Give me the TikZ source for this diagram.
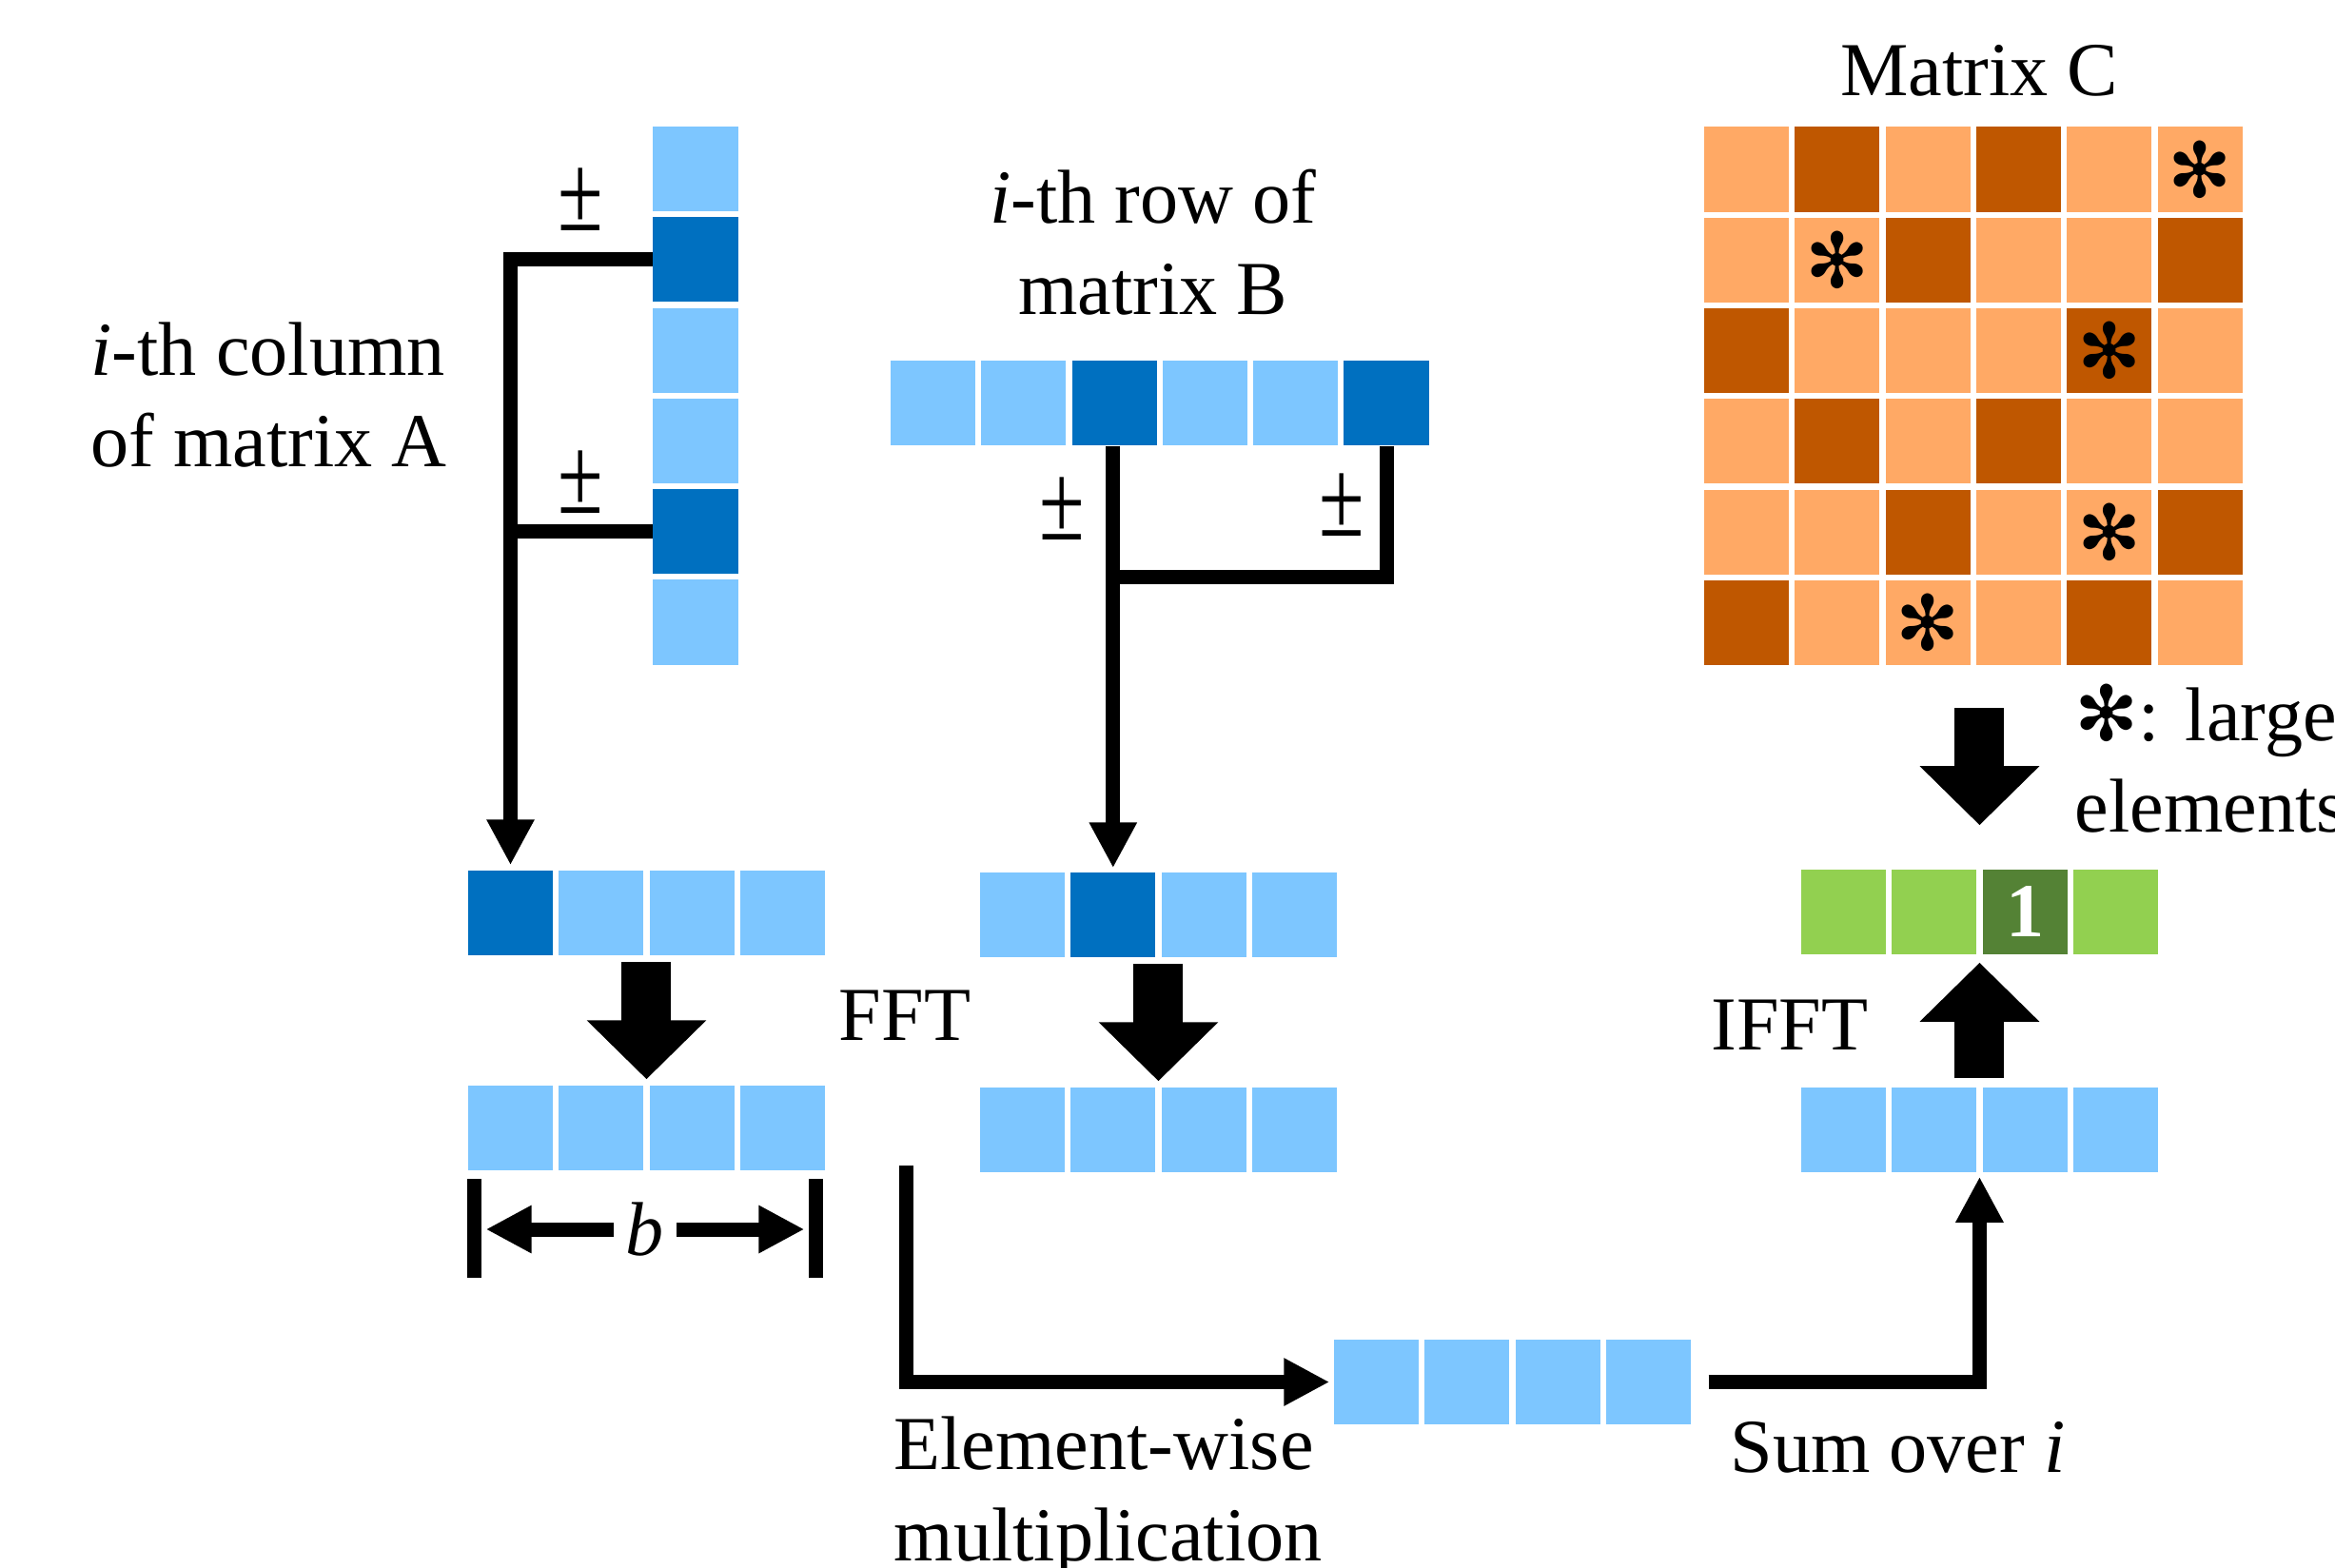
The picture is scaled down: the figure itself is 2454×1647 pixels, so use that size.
\documentclass[tikz,border=0pt]{standalone}
\usepackage{fontspec}
\setmainfont{Liberation Serif}
\newfontfamily\dejavu{DejaVu Sans}
\usetikzlibrary{
  arrows.meta,
  calc
}
\definecolor{celllight}{RGB}{125,198,255}
\definecolor{celldark}{RGB}{0,112,192}
\definecolor{matlight}{RGB}{255,169,101}
\definecolor{matdark}{RGB}{191,87,0}
\definecolor{reslight}{RGB}{146,208,80}
\definecolor{resdark}{RGB}{84,130,53}
\newcommand{\figfont}{\fontsize{22.8pt}{27.3pt}\selectfont}
\newcommand{\pmsign}{\scalebox{1.08}[1.45]{±}}
\tikzset{
  cell/.style={
    inner sep=0pt,
    minimum size=0.89cm,
    fill=celllight
  },
  hot/.style={
    cell,
    fill=celldark
  },
  mat0/.style={cell, fill=matlight},
  mat1/.style={cell, fill=matdark},
  mat2/.style={mat0, label={[astx]center:✻}},
  mat3/.style={mat1, label={[astx]center:✻}},
  astx/.style={
    inner sep=0pt,
    font={\figfont\dejavu}
  },
  rescell/.style={
    cell,
    fill=reslight
  },
  reshot/.style={
    cell,
    fill=resdark,
    text=white,
    font={\figfont\bfseries}
  },
  txt/.style={
    inner sep=0pt
  },
  wire/.style={
    line width=0.15cm
  },
  arr/.style={
    wire,
    -{Triangle[length=0.48cm,width=0.47cm]}
  },
  fatarrow/.style={
    line width=0.52cm,
    -{Triangle[length=0.62cm,width=1.22cm]}
  }
}

\begin{document}
\begin{tikzpicture}[x=0.01cm, y=-0.01cm, font=\figfont]
\useasboundingbox (0,0) rectangle (2454,1647);

% Column of matrix A.
\foreach \s [count=\k] in {cell,hot,cell,cell,hot,cell}
  \node[\s] (a\k) at (731,{82.2+95.3*\k}) {};
\node[txt, anchor=base west, align=left] (colA) at (95,490.5) {
  \textit{i}-th column\\of matrix A
};
\node[txt, anchor=base] (pmA1) at (610,242) {\pmsign};
\node[txt, anchor=base] (pmA2) at (610,539) {\pmsign};

% Row of matrix B.
\foreach \s [count=\k] in {cell,cell,hot,cell,cell,hot}
  \node[\s] (b\k) at ({885.2+95.3*\k},423.5) {};
\node[txt, anchor=base, align=center] (rowB) at (1212,330) {
  \textit{i}-th row of\\matrix B
};
\node[txt, anchor=base] (pmB1) at (1116,567) {\pmsign};
\node[txt, anchor=base] (pmB2) at (1410,563) {\pmsign};

% Matrix C (1 = large block, 2/3 = marked element).
\foreach \row [count=\r] in {{0,1,0,1,0,2},{0,2,1,0,0,1},{1,0,0,0,3,0},
                              {0,1,0,1,0,0},{0,0,1,0,2,1},{1,0,2,0,1,0}}
  \foreach \v [count=\c] in \row
    \node[mat\v] (c\r\c) at ({1740.2+95.3*\c},{82.7+95.3*\r}) {};
\node[txt, anchor=base] (matC) at (2080,100) {Matrix C};
\node[txt, anchor=base west, align=left] (legend) at (2180,874) {
  {\dejavu ✻}: large\\elements
};

% Gathered vectors and their FFTs.
\foreach \s [count=\k] in {hot,cell,cell,cell} {
  \node[\s] (av\k) at ({441.2+95.3*\k},959.5) {};
  \node[cell] (af\k) at ({441.2+95.3*\k},1185.5) {};
}
\foreach \s [count=\k] in {cell,hot,cell,cell} {
  \node[\s] (bv\k) at ({979.2+95.3*\k},961.5) {};
  \node[cell] (bf\k) at ({979.2+95.3*\k},1187) {};
}
\node[txt, anchor=base] (fft) at (951,1093) {FFT};

% Product, sum and inverse FFT.
\foreach \k in {1,...,4} {
  \node[cell] (pv\k) at ({1351.2+95.3*\k},1452.5) {};
  \node[cell] (iv\k) at ({1842.2+95.3*\k},1187.5) {};
}
\node[rescell] (g1) at (1937.5,958.5) {};
\node[rescell] (g2) at (2032.8,958.5) {};
\node[reshot] (g3) at (2128.1,958.5) {1};
\node[rescell] (g4) at (2223.4,958.5) {};
\node[txt, anchor=base] (ifft) at (1881,1103) {IFFT};
\node[txt, anchor=base west, align=left] (mult) at (939,1640) {
  Element-wise\\multiplication
};
\node[txt, anchor=base west] (sum) at (1818,1547) {Sum over \textit{i}};

% Width b.
\coordinate (dimtopL) at (498.5,1239);
\coordinate (dimbotL) at (498.5,1343);
\coordinate (dimtopR) at (857.5,1239);
\coordinate (dimbotR) at (857.5,1343);
\coordinate (dimL) at (510.6,1292);
\coordinate (dimR) at (845.4,1292);
\node[txt, inner xsep=0.12cm] (bdim) at (678,1292) {\textit{b}};
\draw[wire] (dimtopL) -- (dimbotL);
\draw[wire] (dimtopR) -- (dimbotR);
\draw[arr] (bdim.west) -- (dimL);
\draw[arr] (bdim.east) -- (dimR);

% Gathering connectors.
\draw[arr, shorten >=0.05cm] (a2.west) -| (av1.north);
\draw[wire] (a5.west) -- (a5.west -| av1.north);
\draw[arr, shorten >=0.04cm] (bv2.north |- b3.south) -- (bv2.north);
\coordinate (bjoin) at (bv2.north |- 0,606);
\draw[wire] (b6.south) |- (bjoin);

\coordinate (mulstart) at (952,1225);
\draw[arr, shorten >=0.04cm] (mulstart) |- (pv1.west);
\coordinate (sumend) at ($(iv2.south east)!0.5!(iv3.south west)$);
\draw[arr, shorten <=0.18cm, shorten >=0.04cm] (pv4.east) -| (sumend);

% Block arrows.
\draw[fatarrow, shorten <=0.06cm, shorten >=0.06cm]
  ($(av2.south east)!0.5!(av3.south west)$) -- ($(af2.north east)!0.5!(af3.north west)$);
\draw[fatarrow, shorten <=0.06cm, shorten >=0.055cm]
  ($(bv2.south east)!0.5!(bv3.south west)$) -- ($(bf2.north east)!0.5!(bf3.north west)$);
\draw[fatarrow, shorten <=0.09cm, shorten >=0.08cm]
  ($(iv2.north east)!0.5!(iv3.north west)$) -- ($(g2.south east)!0.5!(g3.south west)$);
\coordinate (gtop) at ($(g2.north east)!0.5!(g3.north west)$);
\draw[fatarrow, shorten <=0.445cm, shorten >=0.46cm] (gtop |- c62.south) -- (gtop);

\end{tikzpicture}
\end{document}
